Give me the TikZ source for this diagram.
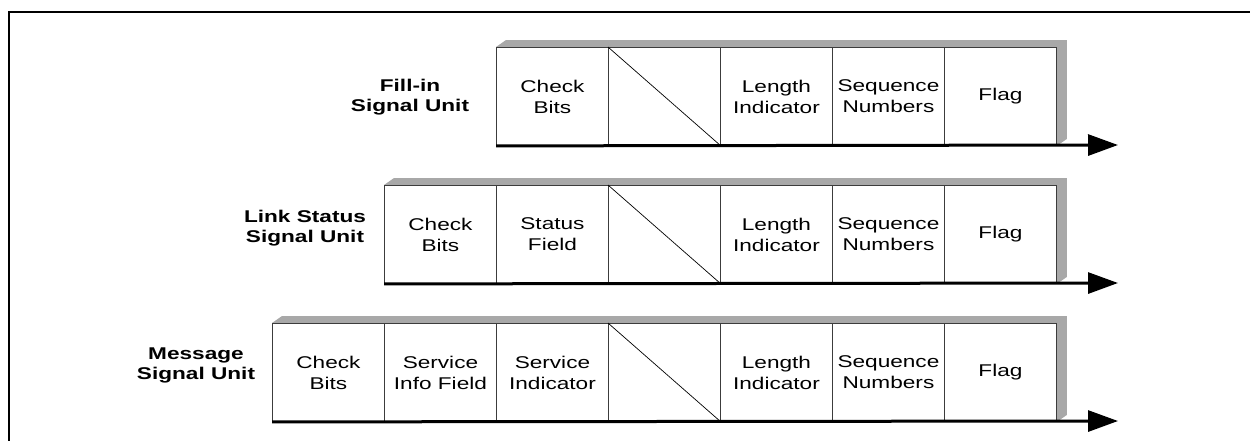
\documentclass[tikz,border=0pt]{standalone}
\usepackage{fontspec}
\setmainfont{Liberation Sans}[FakeStretch=1.33]
\usetikzlibrary{arrows.meta,backgrounds}

\definecolor{edge}{RGB}{60,60,60}
\definecolor{slab}{RGB}{168,168,168}

\begin{document}
\begin{tikzpicture}[x=1pt,y=-1pt,
  cell/.style={draw=edge, line width=0.9pt, fill=white, anchor=north west,
    minimum width=112pt, minimum height=98pt, inner sep=0pt, align=center,
    font=\fontsize{17}{21}\selectfont},
  unitlabel/.style={align=center, inner sep=0pt,
    font=\fontsize{17}{20}\selectfont\bfseries},
  slabfill/.style={fill=slab},
  axis/.style={line width=3pt, -{Triangle[length=30pt,width=21pt]}},
  frame/.style={line width=2.6pt, line cap=rect},
  split/.style={draw=black, line width=0.7pt}]

\useasboundingbox (0,0) rectangle (1250,440);

% outer frame (only the top and left sides fall inside the page)
\draw[frame] (9,445) -- (9,12) -- (1255,12);

% ---------- Fill-in Signal Unit ----------
\node[unitlabel] (lab1) at (410,97) {Fill-in\\Signal Unit};
\foreach \txt [count=\i] in {{Check\\Bits},{},{Length\\Indicator},{Sequence\\Numbers},{Flag}}
  \node[cell] (r1c\i) at ({496+112*(\i-1)},47) {\txt};
\draw[split] (r1c2.north west) -- (r1c2.south east);
\coordinate (r1tip) at (1118,145);

% ---------- Link Status Signal Unit ----------
\node[unitlabel] (lab2) at (305,228) {Link Status\\Signal Unit};
\foreach \txt [count=\i] in {{Check\\Bits},{Status\\Field},{},{Length\\Indicator},{Sequence\\Numbers},{Flag}}
  \node[cell] (r2c\i) at ({384+112*(\i-1)},185) {\txt};
\draw[split] (r2c3.north west) -- (r2c3.south east);
\coordinate (r2tip) at (1118,283);

% ---------- Message Signal Unit ----------
\node[unitlabel] (lab3) at (196,365) {Message\\Signal Unit};
\foreach \txt [count=\i] in {{Check\\Bits},{Service\\Info Field},{Service\\Indicator},{},{Length\\Indicator},{Sequence\\Numbers},{Flag}}
  \node[cell] (r3c\i) at ({272+112*(\i-1)},323) {\txt};
\draw[split] (r3c4.north west) -- (r3c4.south east);
\coordinate (r3tip) at (1118,421);

% raised top and right faces behind each frame row
\begin{pgfonlayer}{background}
  \foreach \r/\last in {1/5, 2/6, 3/7}
    \fill[slabfill] (r\r c1.north west) -- ([shift={(10,-7)}]r\r c1.north west)
      -- ([shift={(10,-7)}]r\r c\last.north east)
      -- ([shift={(10,-7)}]r\r c\last.south east)
      -- (r\r c\last.south east) -- (r\r c\last.north east) -- cycle;
\end{pgfonlayer}

% time axes under the rows
\draw[axis] (r1c1.south west) -- (r1tip);
\draw[axis] (r2c1.south west) -- (r2tip);
\draw[axis] (r3c1.south west) -- (r3tip);

\end{tikzpicture}
\end{document}
